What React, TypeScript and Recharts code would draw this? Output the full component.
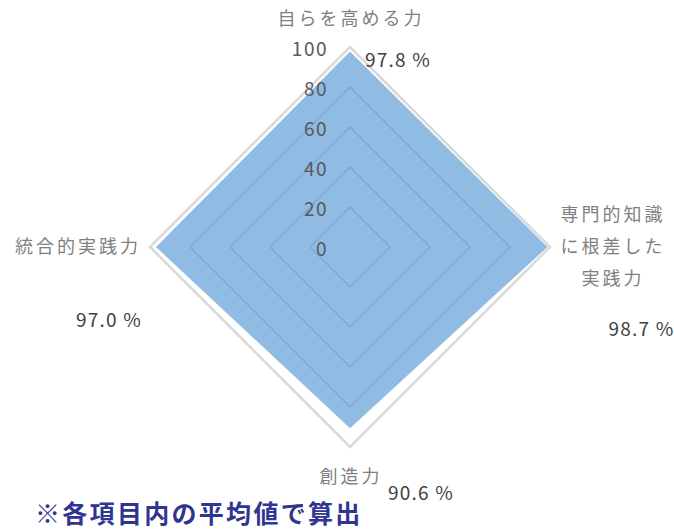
import React from "react";
import {
  RadarChart,
  Radar,
  PolarGrid,
  PolarAngleAxis,
  PolarRadiusAxis,
} from "recharts";

// axis names (clockwise from top), wrapped lines per axis
const categories: string[][] = [
  ["自らを高める力"],
  ["専門的知識", "に根差した", "実践力"],
  ["創造力"],
  ["統合的実践力"],
];
const scores: number[] = [97.8, 98.7, 90.6, 97.0];
const radiusTicks: number[] = [0, 20, 40, 60, 80, 100];
const footNote = "※各項目内の平均値で算出";

const data = categories.map((lines, i) => ({
  name: lines.join(""),
  score: scores[i],
}));

const W = 674;
const H = 530;
const CX = 350;
const CY = 247;
const OUTER = 200;

const JP = '"Noto Sans CJK JP", "Noto Sans", sans-serif';

// label offsets from the outer vertex / data point
const nameOffsets = [
  { dx: 1, dy: -30 },
  { dx: 63, dy: -2 },
  { dx: 1, dy: 28 },
  { dx: -72, dy: -2 },
];
const valueOffsets = [
  { dx: 48, dy: 7 },
  { dx: 94, dy: 80 },
  { dx: 71, dy: 63 },
  { dx: -47, dy: 71 },
];

function AngleTick(props: any) {
  const { payload, index } = props;
  const i = index ?? payload.index;
  const lines = categories[i];
  // anchor at the outer ring vertex
  const ang = Math.PI / 2 - (i * Math.PI) / 2;
  const x = CX + OUTER * Math.cos(ang);
  const y = CY - OUTER * Math.sin(ang);
  const off = nameOffsets[i];
  const lh = 32;
  const startY = y + off.dy - ((lines.length - 1) * lh) / 2;
  return (
    <text
      textAnchor="middle"
      fill="#7f7f7f"
      fontSize={18}
      letterSpacing={3}
      fontFamily={JP}
      dominantBaseline="central"
    >
      {lines.map((l, k) => (
        <tspan key={k} x={x + off.dx} y={startY + k * lh}>
          {l}
        </tspan>
      ))}
    </text>
  );
}

function RadiusTick(props: any) {
  const { y, payload } = props;
  return (
    <text
      x={CX - 22}
      y={y}
      textAnchor="end"
      dominantBaseline="central"
      fill="#595959"
      fontSize={19}
      letterSpacing={1.5}
      fontFamily={JP}
    >
      {payload.value}
    </text>
  );
}

function ValueLabel(props: any) {
  const { x, y, value, index } = props;
  const off = valueOffsets[index];
  return (
    <text
      x={x + off.dx}
      y={y + off.dy}
      textAnchor="middle"
      dominantBaseline="central"
      fill="#404040"
      fontSize={19}
      letterSpacing={1.2}
      fontFamily={JP}
    >
      {`${Number(value).toFixed(1)} %`}
    </text>
  );
}

export default function App() {
  return (
    <div
      style={{
        position: "absolute",
        left: 0,
        top: 0,
        width: W,
        height: H,
        background: "#fff",
        overflow: "hidden",
      }}
    >
      <RadarChart
        width={W}
        height={H}
        data={data}
        cx={CX}
        cy={CY}
        outerRadius={OUTER}
        startAngle={90}
        endAngle={-270}
        margin={{ top: 0, right: 0, bottom: 0, left: 0 }}
      >
        <PolarGrid
          gridType="polygon"
          radialLines={false}
          polarRadius={radiusTicks.slice(1, -1).map((t) => (t / 100) * OUTER)}
          stroke="#b8b8b8"
          strokeWidth={1.2}
        />
        <PolarGrid
          gridType="polygon"
          radialLines={false}
          polarRadius={[OUTER]}
          stroke="#d9d9d9"
          strokeWidth={2.5}
        />
        <PolarAngleAxis
          dataKey="name"
          tick={<AngleTick />}
          tickLine={false}
          axisLine={false}
        />
        <Radar
          dataKey="score"
          stroke="none"
          fill="#5b9bd5"
          fillOpacity={0.68}
          isAnimationActive={false}
          label={<ValueLabel />}
        />
        <PolarRadiusAxis
          angle={90}
          domain={[0, 100]}
          ticks={radiusTicks as any}
          tickCount={6}
          tick={<RadiusTick />}
          axisLine={false}
          tickLine={false}
        />
      </RadarChart>
      <div
        style={{
          position: "absolute",
          left: 35,
          top: 498,
          fontFamily: JP,
          fontSize: 25,
          fontWeight: 700,
          color: "#2f3590",
          letterSpacing: 2.3,
          lineHeight: "28px",
          whiteSpace: "nowrap",
        }}
      >
        {footNote}
      </div>
    </div>
  );
}
